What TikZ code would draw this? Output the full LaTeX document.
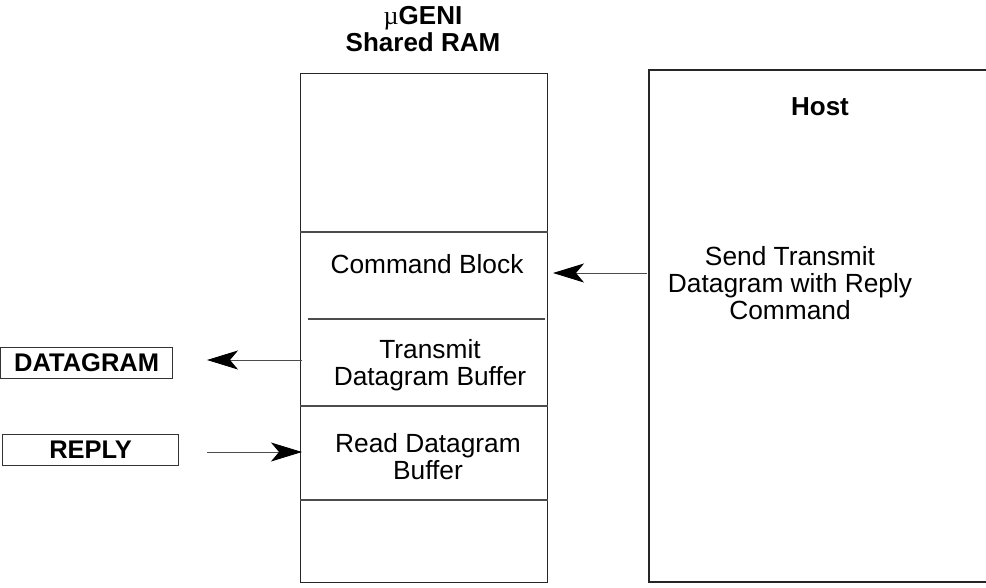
\documentclass[tikz,border=0pt]{standalone}
\usepackage{fontspec}
\setmainfont{Liberation Sans}
\newfontfamily\mufont{Liberation Serif}
\usetikzlibrary{arrows.meta}
\tikzset{
  txt/.style={align=center, inner sep=0pt, font=\fontsize{26.3}{27}\selectfont},
  btxt/.style={align=center, inner sep=0pt, font=\bfseries\fontsize{26}{27}\selectfont},
  frame/.style={draw=black!85, line width=1.4pt},
  divider/.style={draw=black!70, line width=1.3pt},
  conn/.style={draw=black!70, line width=1pt, -{Stealth[length=31pt,width=19pt,inset=8pt,color=black,fill=black]}},
  tagbox/.style={draw=black!80, line width=1.2pt, inner sep=0pt, font=\bfseries\fontsize{25.5}{27}\selectfont}
}
\begin{document}
\begin{tikzpicture}[x=1pt,y=-1pt]
\useasboundingbox (0,0) rectangle (986,587);
% title
\node[btxt] (title) at (423,29) {{\mufont\mdseries\textmu}GENI\\Shared RAM};
% RAM box
\node[frame, minimum width=247pt, minimum height=509pt, inner sep=0pt, anchor=north west] (ram) at (300,73) {};
\draw[divider] (ram.west |- 0,232) -- (ram.east |- 0,232);
\draw[divider] (308,319) -- (545,319);
\draw[divider] (ram.west |- 0,406) -- (ram.east |- 0,406);
\draw[divider] (ram.west |- 0,500) -- (ram.east |- 0,500);
\node[txt] (cmd) at (427,264) {Command Block};
\node[txt] (tdb) at (430,365) {Transmit\\Datagram Buffer};
\node[txt] (rdb) at (428,457) {Read Datagram\\Buffer};
% host box (right edge outside picture)
\draw[frame] (990,70) -- (649,70) -- (649,582) -- (990,582);
\coordinate (hostleft) at (647,273);
\node[btxt] (host) at (820,107) {Host};
\node[txt] (send) at (790,283) {Send Transmit\\Datagram with Reply\\Command};
% tags
\node[tagbox, minimum width=172pt, minimum height=31pt, anchor=north west] (dg) at (0,347) {DATAGRAM};
\node[tagbox, minimum width=176pt, minimum height=31pt, anchor=north west] (rp) at (2,434) {REPLY};
\coordinate (dgsrc) at (302,360);
\coordinate (dgtip) at (207,360);
\coordinate (rpsrc) at (207,452);
\coordinate (rptip) at (302,452);
\coordinate (cmdtip) at (553,273);
% connectors
\draw[conn] (hostleft) -- (cmdtip);
\draw[conn] (dgsrc) -- (dgtip);
\draw[conn] (rpsrc) -- (rptip);
\end{tikzpicture}
\end{document}
